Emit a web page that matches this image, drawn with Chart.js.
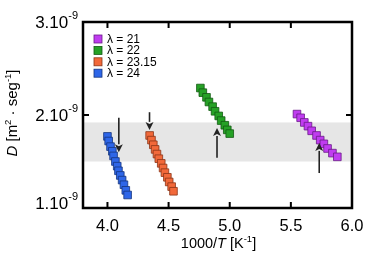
<!DOCTYPE html>
<html><head><meta charset="utf-8">
<script src="https://cdn.jsdelivr.net/npm/chart.js@4.4.1/dist/chart.umd.min.js"></script>
<style>html,body{margin:0;padding:0;background:#fff}#wrap{width:374px;height:280px}</style>
</head><body><div id="wrap"><canvas id="c"></canvas></div>
<script>
// Series labels and colours
const seriesLabels = ['λ = 21', 'λ = 22', 'λ = 23.15', 'λ = 24'];
const seriesColors = ['#c03cf0', '#26a126', '#f2693a', '#2e66e8'];
const seriesBorders = ['#6a1a88', '#135a13', '#8a3518', '#15357e'];
// Data: x = 1000/T [K^-1], y = D in units of 1e-9 m^2/s
const x21 = [5.55, 5.58, 5.61, 5.64, 5.67, 5.71, 5.74, 5.77, 5.80, 5.84, 5.88];
const y21 = [2.01, 1.97, 1.92, 1.88, 1.83, 1.78, 1.73, 1.69, 1.64, 1.59, 1.55];
const x22 = [4.76, 4.78, 4.81, 4.83, 4.86, 4.88, 4.91, 4.93, 4.96, 4.98, 5.00];
const y22 = [2.29, 2.24, 2.19, 2.14, 2.09, 2.04, 1.99, 1.94, 1.89, 1.84, 1.80];
const x2315 = [4.345, 4.36, 4.375, 4.39, 4.405, 4.42, 4.44, 4.455, 4.47, 4.49, 4.505, 4.525, 4.54];
const y2315 = [1.78, 1.73, 1.68, 1.63, 1.58, 1.53, 1.48, 1.43, 1.38, 1.33, 1.28, 1.23, 1.18];
const x24 = [4.00, 4.01, 4.025, 4.04, 4.05, 4.065, 4.08, 4.09, 4.105, 4.12, 4.135, 4.15, 4.165];
const y24 = [1.77, 1.72, 1.66, 1.61, 1.56, 1.50, 1.45, 1.40, 1.35, 1.30, 1.25, 1.19, 1.14];
// Tick values / labels
const xTicks = [4.0, 4.5, 5.0, 5.5, 6.0];
const xTickLabels = ['4.0', '4.5', '5.0', '5.5', '6.0'];
const yTicks = [1, 2, 3];
const yTickMant = ['1.10', '2.10', '3.10'];
const yTickExp = ['-9', '-9', '-9'];
// Grey band (y range) and arrows (x, from y, to y)
const band = [1.50, 1.92];
const arrowX = [4.093, 4.344, 4.896, 5.732];
const arrowFrom = [1.97, 2.03, 1.54, 1.376];
const arrowTo = [1.60, 1.84, 1.86, 1.70];

const xs = [x21, x22, x2315, x24], ys = [y21, y22, y2315, y24];
const datasets = seriesLabels.map((l, i) => ({
  label: l,
  data: xs[i].map((v, j) => ({x: v, y: ys[i][j]})),
  showLine: false,
  pointStyle: 'rect',
  pointRadius: 5.4,
  pointHoverRadius: 5.4,
  backgroundColor: seriesColors[i],
  borderColor: seriesBorders[i],
  borderWidth: 0.8
}));

const FONT = '"Liberation Sans", Arial, sans-serif';

function drawSup(ctx, parts, x, y, align) {
  let w = 0;
  parts.forEach(p => { ctx.font = (p.italic ? 'italic ' : '') + p.size + 'px ' + FONT; p.w = ctx.measureText(p.t).width; w += p.w; });
  let cx = align === 'right' ? x - w : align === 'center' ? x - w / 2 : x;
  ctx.textAlign = 'left';
  parts.forEach(p => { ctx.font = (p.italic ? 'italic ' : '') + p.size + 'px ' + FONT; ctx.fillText(p.t, cx, y + (p.dy || 0)); cx += p.w; });
}

const deco = {
  id: 'deco',
  beforeDatasetsDraw(chart) {
    const {ctx, chartArea: a, scales: {x, y}} = chart;
    ctx.save();
    ctx.fillStyle = '#e6e6e6';
    const t = y.getPixelForValue(band[1]), b = y.getPixelForValue(band[0]);
    ctx.fillRect(a.left, t, a.right - a.left, b - t);
    ctx.restore();
  },
  afterDatasetsDraw(chart) {
    const {ctx, chartArea: a, scales: {x, y}} = chart;
    ctx.save();
    ctx.strokeStyle = '#222'; ctx.fillStyle = '#222'; ctx.lineWidth = 1.6;
    arrowX.forEach((ax, i) => {
      const px = x.getPixelForValue(ax), p0 = y.getPixelForValue(arrowFrom[i]), p1 = y.getPixelForValue(arrowTo[i]);
      const dir = p1 > p0 ? 1 : -1, hl = 8, hw = 4;
      ctx.beginPath(); ctx.moveTo(px, p0); ctx.lineTo(px, p1 - dir * hl); ctx.stroke();
      ctx.beginPath(); ctx.moveTo(px, p1); ctx.lineTo(px - hw, p1 - dir * hl); ctx.lineTo(px, p1 - dir * (hl - 2)); ctx.lineTo(px + hw, p1 - dir * hl); ctx.closePath(); ctx.fill();
    });
    ctx.strokeStyle = '#000'; ctx.lineWidth = 2.5;
    ctx.strokeRect(a.left, a.top, a.right - a.left, a.bottom - a.top);
    ctx.lineWidth = 2;
    xTicks.forEach(v => {
      const px = x.getPixelForValue(v);
      ctx.beginPath(); ctx.moveTo(px, a.bottom); ctx.lineTo(px, a.bottom - 6); ctx.moveTo(px, a.top); ctx.lineTo(px, a.top + 6); ctx.stroke();
    });
    yTicks.forEach(v => {
      const py = y.getPixelForValue(v);
      ctx.beginPath(); ctx.moveTo(a.left, py); ctx.lineTo(a.left + 6, py); ctx.moveTo(a.right, py); ctx.lineTo(a.right - 6, py); ctx.stroke();
    });
    ctx.fillStyle = '#000'; ctx.textBaseline = 'middle';
    ctx.font = '16.5px ' + FONT; ctx.textAlign = 'center';
    xTicks.forEach((v, i) => ctx.fillText(xTickLabels[i], x.getPixelForValue(v), a.bottom + 18));
    yTicks.forEach((v, i) => {
      let py = y.getPixelForValue(v);
      if (i === 0) py -= 5;
      drawSup(ctx, [{t: yTickMant[i], size: 17}, {t: yTickExp[i], size: 11, dy: -7}], a.left - 5, py + 1, 'right');
    });
    drawSup(ctx, [{t: '1000/', size: 14.5}, {t: 'T', size: 14.5, italic: true}, {t: ' [K', size: 14.5}, {t: '-1', size: 9.5, dy: -5}, {t: ']', size: 14.5}], (a.left + a.right) / 2 + 1, a.bottom + 36, 'center');
    ctx.save();
    ctx.translate(13, (a.top + a.bottom) / 2 - 2);
    ctx.rotate(-Math.PI / 2);
    drawSup(ctx, [{t: 'D', size: 15, italic: true}, {t: ' [m', size: 15}, {t: '2', size: 9.5, dy: -5}, {t: ' · seg', size: 15}, {t: '-1', size: 9.5, dy: -5}, {t: ']', size: 15}], 0, 0, 'center');
    ctx.restore();
    const lx = 98, ly0 = 39, ldy = 11.4;
    seriesLabels.forEach((l, i) => {
      const yy = ly0 + i * ldy;
      ctx.fillStyle = seriesColors[i]; ctx.fillRect(lx - 4, yy - 4, 8, 8);
      ctx.strokeStyle = seriesBorders[i]; ctx.lineWidth = 0.8; ctx.strokeRect(lx - 4, yy - 4, 8, 8);
      ctx.fillStyle = '#000'; ctx.font = '12px ' + FONT; ctx.textAlign = 'left';
      ctx.fillText(l, lx + 9, yy + 0.5);
    });
    ctx.restore();
  }
};

new Chart(document.getElementById('c'), {
  type: 'scatter',
  data: {datasets},
  options: {
    responsive: true, maintainAspectRatio: false, animation: false,
    layout: {padding: {left: 83, right: 22, top: 22, bottom: 72}},
    plugins: {legend: {display: false}, tooltip: {enabled: false}},
    scales: {
      x: {type: 'linear', display: false, min: 3.8, max: 6.0},
      y: {type: 'linear', display: false, min: 1.0, max: 3.0}
    }
  },
  plugins: [deco]
});
</script></body></html>
